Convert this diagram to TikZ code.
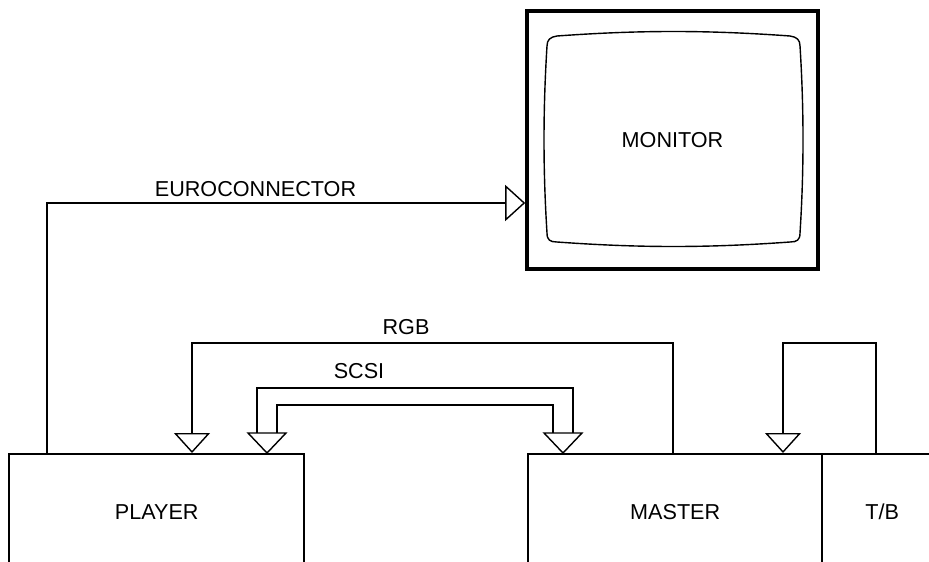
\documentclass[tikz,border=0pt]{standalone}
\usepackage{fontspec}
\setmainfont{Liberation Sans}
\usetikzlibrary{arrows.meta,calc}

\begin{document}
\begin{tikzpicture}[x=0.5pt,y=-0.5pt,font=\fontsize{10.8}{12}\selectfont]
    % `unit' is used for the boxes of the devices.
    % `link' is used for the cables, `plug' is their open arrow head.
    % `tag' is used for the cable names.
    \tikzstyle{unit} = [draw,line width=1.2pt,anchor=north west,inner sep=0pt]
    \tikzstyle{link} = [line width=0.7pt]
    \tikzstyle{plug} = [-{Triangle[open,length=10pt,width=18pt]}]
    \tikzstyle{tag} = [inner sep=1pt]
    \useasboundingbox (0,0) rectangle (929,561);
    %
    \node[unit,minimum width=147.5pt,minimum height=58pt] (player) at (8,453) {PLAYER};
    \node[unit,minimum width=147pt,minimum height=58pt] (master) at (527,453) {MASTER};
    \node[unit,minimum width=60pt,minimum height=58pt] (tb) at (821,453) {T/B};
    \node[draw,line width=1.8pt,minimum width=145.5pt,minimum height=129pt] (monitor) at (672.5,140) {MONITOR};
    % Draw the screen.
    \draw[link] (557,36) .. controls (640,30) and (707,30) .. (790,36)
                .. controls (797,37) and (800,40) .. (800,46)
                .. controls (804,110) and (804,170) .. (800,233)
                .. controls (800,240) and (797,242) .. (790,242)
                .. controls (707,248) and (640,248) .. (557,242)
                .. controls (550,242) and (547,240) .. (547,233)
                .. controls (543,170) and (543,110) .. (547,46)
                .. controls (547,40) and (550,37) .. (557,36) -- cycle;
    %
    % Draw cables.
    \draw[link,plug] (player.north -| 47,0) |- (monitor.west |- 0,203);
    \draw[link,plug] (master.north -| 673,0) |- (192,343) -- (player.north -| 192,0);
    \draw[link,plug] (tb.north -| 876,0) |- (783,343) -- (master.north -| 783,0);
    % SCSI is a wide cable with two heads.
    \coordinate (scsiA) at (player.north -| 267,0);
    \coordinate (scsiB) at (master.north -| 563,0);
    \draw[link] ($(scsiA)+(-10,-20)$) |- ($(scsiB)+(10,-65)$) -- ($(scsiB)+(10,-20)$)
                ($(scsiA)+(10,-20)$) |- ($(scsiB)+(-10,-48)$) -- ($(scsiB)+(-10,-20)$);
    \foreach \head in {scsiA,scsiB}
      \draw[link,line join=miter] (\head) -- ++(-19,-20) -- ++(38,0) -- cycle;
    %
    \node[tag] (euro) at (255.5,189.5) {EUROCONNECTOR};
    \node[tag] (rgb) at (406,327) {RGB};
    \node[tag] (scsi) at (359,371) {SCSI};
\end{tikzpicture}
\end{document}
